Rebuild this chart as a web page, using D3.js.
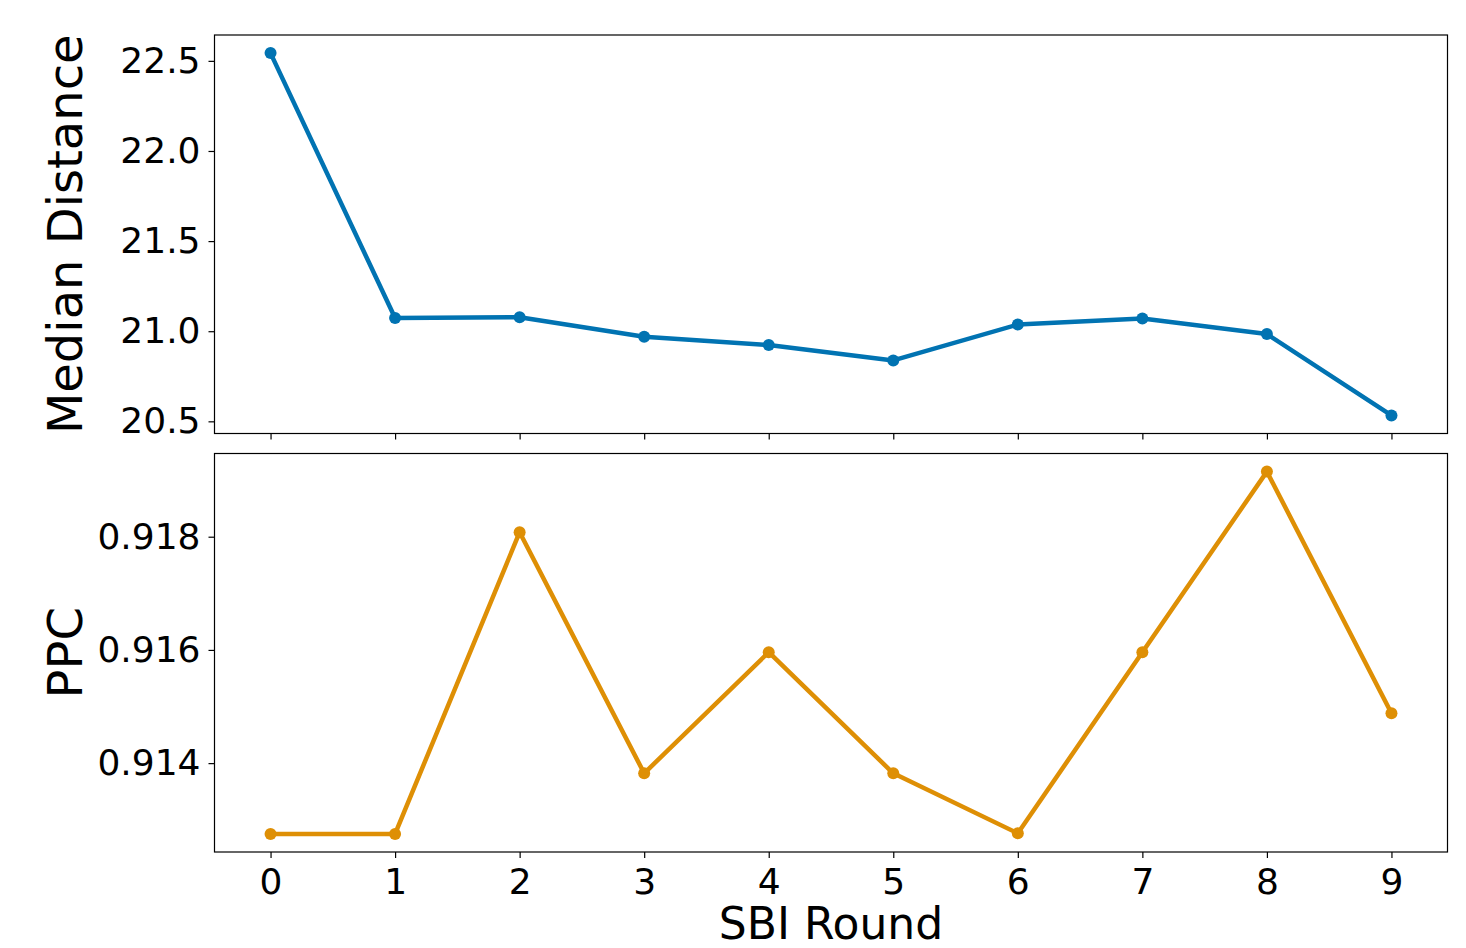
<!DOCTYPE html>
<html>
<head>
<meta charset="utf-8">
<script src="https://cdn.jsdelivr.net/npm/d3@7"></script>
<style>
  body { margin: 0; background: #fff; }
  text { font-family: "DejaVu Sans", sans-serif; }
</style>
</head>
<body>
<script>
// data
var rounds = [0, 1, 2, 3, 4, 5, 6, 7, 8, 9];
var medianDistance = [22.543, 21.073, 21.078, 20.969, 20.923, 20.838, 21.037, 21.071, 20.984, 20.533];
var ppc = [0.91275, 0.91275, 0.91808, 0.91382, 0.91596, 0.91382, 0.91276, 0.91596, 0.91915, 0.91488];
var distTicks = [20.5, 21.0, 21.5, 22.0, 22.5];
var ppcTicks = [0.914, 0.916, 0.918];

var W = 1466, H = 948;
var left = 214.5, right = 1447.5;

var svg = d3.select("body").append("svg")
  .attr("width", W)
  .attr("height", H);

// shared x scale, matplotlib-style 5% margins
var x = d3.scaleLinear().domain([-0.45, 9.45]).range([left, right]);

function padded(vals) {
  var e = d3.extent(vals), m = (e[1] - e[0]) * 0.05;
  return [e[0] - m, e[1] + m];
}

function panel(top, bottom, values, ticks, fmt, color, label, showX) {
  var y = d3.scaleLinear().domain(padded(values)).range([bottom, top]);
  var g = svg.append("g");

  // y axis
  var ya = g.append("g")
    .attr("transform", "translate(" + left + ",0)")
    .call(d3.axisLeft(y).tickValues(ticks).tickFormat(fmt).tickSize(6).tickSizeOuter(0).tickPadding(8));
  ya.select(".domain").remove();
  ya.selectAll("line").attr("stroke", "#000").attr("stroke-width", 1.2);
  ya.selectAll("text").attr("font-size", 36).attr("fill", "#000");

  // x axis
  var xa = g.append("g")
    .attr("transform", "translate(0," + bottom + ")")
    .call(d3.axisBottom(x).tickValues(rounds).tickFormat(showX ? d3.format("d") : "").tickSize(6).tickSizeOuter(0).tickPadding(10));
  xa.select(".domain").remove();
  xa.selectAll("line").attr("stroke", "#000").attr("stroke-width", 1.2);
  xa.selectAll("text").attr("font-size", 36).attr("fill", "#000");

  var line = d3.line()
    .x(function(d, i) { return x(rounds[i]); })
    .y(function(d) { return y(d); });

  g.append("path")
    .datum(values)
    .attr("fill", "none")
    .attr("stroke", color)
    .attr("stroke-width", 4.5)
    .attr("stroke-linejoin", "round")
    .attr("d", line);

  g.selectAll("circle").data(values).enter().append("circle")
    .attr("cx", function(d, i) { return x(rounds[i]); })
    .attr("cy", function(d) { return y(d); })
    .attr("r", 6)
    .attr("fill", color);

  // frame
  g.append("rect")
    .attr("x", left).attr("y", top)
    .attr("width", right - left).attr("height", bottom - top)
    .attr("fill", "none")
    .attr("stroke", "#000")
    .attr("stroke-width", 1.2);

  // y label
  g.append("text")
    .attr("transform", "translate(82," + ((top + bottom) / 2) + ") rotate(-90)")
    .attr("text-anchor", "middle")
    .attr("font-size", 48)
    .attr("fill", "#000")
    .text(label);
}

panel(35, 433.5, medianDistance, distTicks, d3.format(".1f"), "#0173b2", "Median Distance", false);
panel(453.5, 852, ppc, ppcTicks, d3.format(".3f"), "#de8f05", "PPC", true);

svg.append("text")
  .attr("x", (left + right) / 2)
  .attr("y", 939)
  .attr("text-anchor", "middle")
  .attr("font-size", 44)
  .attr("fill", "#000")
  .text("SBI Round");
</script>
</body>
</html>
